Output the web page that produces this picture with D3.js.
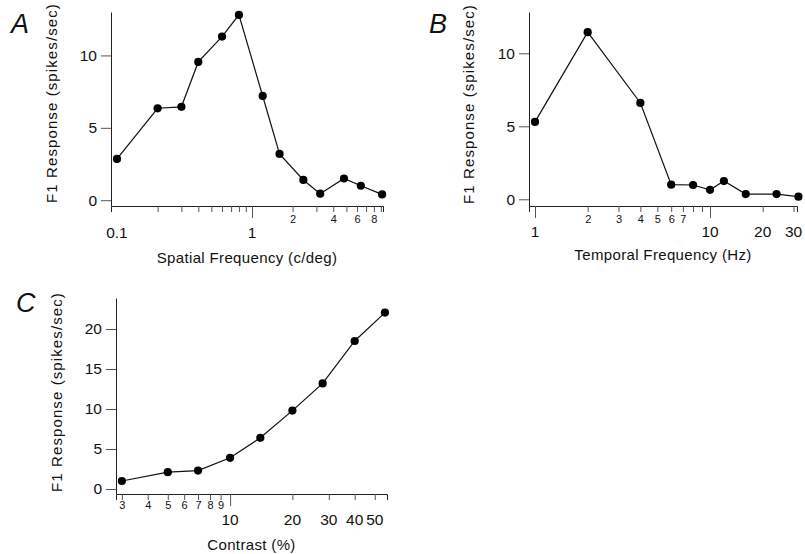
<!DOCTYPE html>
<html>
<head>
<meta charset="utf-8">
<script src="https://cdn.jsdelivr.net/npm/d3@7"></script>
<style>
  html, body { margin: 0; padding: 0; background: #fff; }
  svg { display: block; }
  text { font-family: "Liberation Sans", Arial, Helvetica, sans-serif; fill: #111; }
</style>
</head>
<body>
<svg id="fig" width="805" height="554"></svg>
<script>
// Spatial frequency tuning (panel A)
const spatialFreq = [0.1, 0.2, 0.3, 0.4, 0.6, 0.8, 1.2, 1.6, 2.4, 3.2, 4.8, 6.4, 9.2];
const spatialResp = [2.85, 6.35, 6.45, 9.55, 11.3, 12.8, 7.2, 3.2, 1.4, 0.45, 1.5, 1.0, 0.4];

// Temporal frequency tuning (panel B)
const temporalFreq = [1, 2, 4, 6, 8, 10, 12, 16, 24, 32];
const temporalResp = [5.3, 11.45, 6.6, 1.0, 0.98, 0.65, 1.25, 0.36, 0.36, 0.18];

// Contrast response (panel C)
const contrastPct = [3, 5, 7, 10, 14, 20, 28, 40, 56];
const contrastResp = [1.0, 2.1, 2.3, 3.9, 6.4, 9.8, 13.2, 18.5, 22.05];

// Tick values and labels
const ticksA = [0.2, 0.3, 0.4, 0.5, 0.6, 0.7, 0.8, 0.9, 1, 2, 3, 4, 5, 6, 7, 8, 9];
const minorLabelsA = [2, 4, 6, 8];
const majorLabelsA = [0.1, 1];
const yTicksA = [0, 5, 10];

const ticksB = [1, 2, 3, 4, 5, 6, 7, 8, 9, 10, 20, 30];
const minorLabelsB = [2, 3, 4, 5, 6, 7];
const majorLabelsB = [1, 10, 20, 30];
const yTicksB = [0, 5, 10];

const ticksC = [3, 4, 5, 6, 7, 8, 9, 10, 20, 30, 40, 50];
const minorLabelsC = [3, 4, 5, 6, 7, 8, 9];
const majorLabelsC = [10, 20, 30, 40, 50];
const yTicksC = [0, 5, 10, 15, 20];

const yTitle = "F1 Response (spikes/sec)";

const svg = d3.select("#fig");

function panel(cfg) {
  const g = svg.append("g");
  const x = d3.scaleLog().domain(cfg.xDomain).range(cfg.xRange);
  const y = d3.scaleLinear().domain(cfg.yDomain).range(cfg.yRange);
  const axisY = cfg.yRange[0];

  // y axis
  const ya = g.append("g")
    .attr("transform", `translate(${cfg.xRange[0]},0)`)
    .call(d3.axisLeft(y).tickValues(cfg.yTicks).tickSize(10).tickSizeOuter(0).tickPadding(4));
  ya.select(".domain").attr("stroke", "#222");
  ya.selectAll(".tick line").attr("stroke", "#555");
  ya.selectAll(".tick text").style("font-size", "15.5px").attr("fill", "#111");

  // x axis: tick marks plus small labels under the minor ticks
  const xa = g.append("g")
    .attr("transform", `translate(0,${axisY})`)
    .call(d3.axisBottom(x).tickValues(cfg.xTicks).tickSizeOuter(0)
      .tickSize(6).tickPadding(4)
      .tickFormat(d => cfg.minorLabels.includes(d) ? String(d) : ""));
  xa.select(".domain").attr("stroke", "#222");
  xa.selectAll(".tick line")
    .attr("stroke", "#555")
    .attr("y2", d => cfg.longTicks.includes(d) ? 12 : 6);
  xa.selectAll(".tick text")
    .style("font-size", "11px")
    .attr("fill", "#111")
    .attr("y", cfg.minorLabelY - axisY - 5);

  // larger decade labels
  g.append("g").selectAll("text")
    .data(cfg.majorLabels)
    .join("text")
    .attr("x", d => x(d))
    .attr("y", cfg.majorLabelY)
    .attr("text-anchor", "middle")
    .attr("dominant-baseline", "middle")
    .style("font-size", "15.5px")
    .text(d => String(d));

  // axis titles
  g.append("text")
    .attr("x", (cfg.xRange[0] + cfg.xRange[1]) / 2)
    .attr("y", cfg.xTitleY)
    .attr("text-anchor", "middle")
    .style("font-size", "15px")
    .style("letter-spacing", "0.35px")
    .text(cfg.xTitle);

  g.append("text")
    .attr("transform", `translate(${cfg.yTitleX},${cfg.yTitleCY}) rotate(-90)`)
    .attr("text-anchor", "middle")
    .style("font-size", "15px")
    .style("letter-spacing", "1.1px")
    .text(yTitle);

  // panel letter
  g.append("text")
    .attr("x", cfg.letterX)
    .attr("y", cfg.letterY)
    .style("font-size", "27px")
    .style("font-style", "italic")
    .text(cfg.letter);

  // data line and markers
  const pts = cfg.xs.map((v, i) => [v, cfg.ys[i]]);
  g.append("path")
    .datum(pts)
    .attr("fill", "none")
    .attr("stroke", "#111")
    .attr("stroke-width", 1.2)
    .attr("d", d3.line().x(d => x(d[0])).y(d => y(d[1])));
  g.append("g").selectAll("circle")
    .data(pts)
    .join("circle")
    .attr("cx", d => x(d[0]))
    .attr("cy", d => y(d[1]))
    .attr("r", 4.1)
    .attr("fill", "#000");
}

panel({
  letter: "A", letterX: 11, letterY: 33,
  xs: spatialFreq, ys: spatialResp,
  xDomain: [0.0903, 9.34], xRange: [111, 383],
  yDomain: [-0.4, 13.0], yRange: [206, 12],
  yTicks: yTicksA, xTicks: ticksA, longTicks: [1],
  minorLabels: minorLabelsA, majorLabels: majorLabelsA,
  minorLabelY: 220, majorLabelY: 234,
  xTitle: "Spatial Frequency (c/deg)", xTitleY: 263,
  yTitleX: 57, yTitleCY: 103
});

panel({
  letter: "B", letterX: 429, letterY: 33,
  xs: temporalFreq, ys: temporalResp,
  xDomain: [0.924, 31.4], xRange: [529, 797],
  yDomain: [-0.46, 12.83], yRange: [206, 12],
  yTicks: yTicksB, xTicks: ticksB, longTicks: [1, 10],
  minorLabels: minorLabelsB, majorLabels: majorLabelsB,
  minorLabelY: 220, majorLabelY: 233,
  xTitle: "Temporal Frequency (Hz)", xTitleY: 260,
  yTitleX: 474, yTitleCY: 104
});

panel({
  letter: "C", letterX: 16, letterY: 312,
  xs: contrastPct, ys: contrastResp,
  xDomain: [2.81, 57.3], xRange: [116, 387],
  yDomain: [-0.625, 23.875], yRange: [494, 298],
  yTicks: yTicksC, xTicks: ticksC, longTicks: [10],
  minorLabels: minorLabelsC, majorLabels: majorLabelsC,
  minorLabelY: 506, majorLabelY: 521,
  xTitle: "Contrast (%)", xTitleY: 550,
  yTitleX: 62, yTitleCY: 392
});
</script>
</body>
</html>
